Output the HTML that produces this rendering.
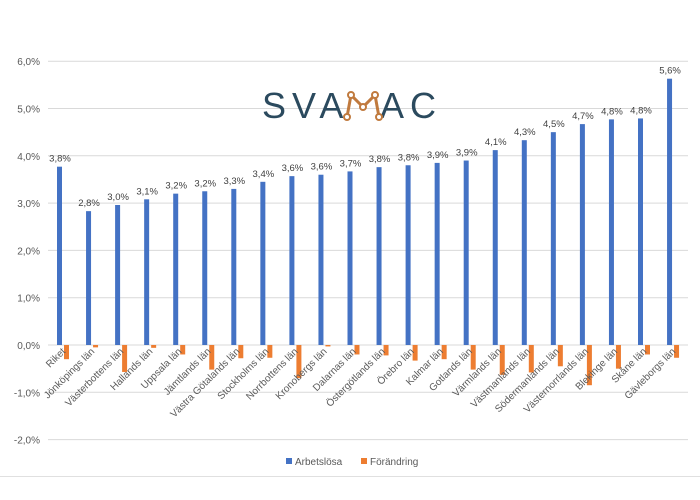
<!DOCTYPE html>
<html><head><meta charset="utf-8"><style>
body{margin:0;background:#fff;width:700px;height:500px;overflow:hidden}
svg{display:block;font-family:"Liberation Sans",sans-serif}
</style></head><body>
<svg id="c" width="700" height="500"></svg>
<script>
const categories=["Riket","Jönköpings län","Västerbottens län","Hallands län","Uppsala län","Jämtlands län","Västra Götalands län","Stockholms län","Norrbottens län","Kronobergs län","Dalarnas län","Östergötlands län","Örebro län","Kalmar län","Gotlands län","Värmlands län","Västmanlands län","Södermanlands län","Västernorrlands län","Blekinge län","Skåne län","Gävleborgs län"];
const arbetslosa=[3.77,2.83,2.96,3.08,3.2,3.25,3.3,3.45,3.57,3.6,3.67,3.76,3.8,3.85,3.9,4.12,4.33,4.5,4.67,4.77,4.79,5.63];
const valueLabels=["3,8%","2,8%","3,0%","3,1%","3,2%","3,2%","3,3%","3,4%","3,6%","3,6%","3,7%","3,8%","3,8%","3,9%","3,9%","4,1%","4,3%","4,5%","4,7%","4,8%","4,8%","5,6%"];
const forandring=[-0.3,-0.05,-0.57,-0.06,-0.2,-0.52,-0.28,-0.27,-0.7,-0.03,-0.2,-0.22,-0.33,-0.3,-0.52,-0.63,-0.58,-0.45,-0.85,-0.5,-0.2,-0.27];
const ticks=[6,5,4,3,2,1,0,-1,-2];
const tickLabels=["6,0%","5,0%","4,0%","3,0%","2,0%","1,0%","0,0%","-1,0%","-2,0%"];
const NS="http://www.w3.org/2000/svg",svg=document.getElementById('c');
const y=v=>345-v*47.3;
const step=29.05;
const xc=i=>62+i*step;
function mk(t,a,p){const e=document.createElementNS(NS,t);for(const k in a)e.setAttribute(k,a[k]);(p||svg).appendChild(e);return e;}
ticks.forEach((t,i)=>{
 const g=mk('line',{x1:48,x2:688,y1:y(t),y2:y(t),stroke:'#d9d9d9','stroke-width':1});
 
 
 const l=mk('text',{x:40,y:y(t)+4,'text-anchor':'end','font-size':10,fill:'#595959'});
 l.textContent=tickLabels[i];
 
 
});
categories.forEach((c,i)=>{
 const b=mk('rect',{x:xc(i)-5,y:y(arbetslosa[i]),width:5,height:y(0)-y(arbetslosa[i]),fill:'#4472c4'});
 
 
 const o=mk('rect',{x:xc(i)+2,y:y(0),width:5,height:y(forandring[i])-y(0),fill:'#ed7d31'});
 
 
 const v=mk('text',{x:xc(i)-2,y:y(arbetslosa[i])-5,'text-anchor':'middle','font-size':9.5,fill:'#404040'});
 v.textContent=valueLabels[i];
 
 
 const cl=mk('text',{x:xc(i)+4,y:352,'text-anchor':'end','font-size':10,fill:'#595959',transform:`rotate(-45 ${xc(i)+4} 352)`});
 cl.textContent=c;
 
 
});
</script>
<svg style="position:absolute;left:0;top:0" width="700" height="500">
<g>
<text x="262" y="118" font-family="Liberation Sans,sans-serif" font-size="36" letter-spacing="6" fill="#2b4a5e">SVA</text>
<text x="380" y="118" font-family="Liberation Sans,sans-serif" font-size="36" letter-spacing="6" fill="#2b4a5e">AC</text>
<polyline points="347,117 351,95 363,107 375,95 379,117" fill="none" stroke="#c07a3e" stroke-width="3"/>
<g fill="#fff" stroke="#c07a3e" stroke-width="2"><circle cx="351" cy="95" r="3"/><circle cx="363" cy="107" r="3"/><circle cx="375" cy="95" r="3"/><circle cx="347" cy="117" r="3"/><circle cx="379" cy="117" r="3"/></g>
</g>
<g>
<rect x="286" y="458" width="6" height="6" fill="#4472c4"/><text x="295" y="465" font-family="Liberation Sans,sans-serif" font-size="10" fill="#595959">Arbetslösa</text>
<rect x="361" y="458" width="6" height="6" fill="#ed7d31"/><text x="370" y="465" font-family="Liberation Sans,sans-serif" font-size="10" fill="#595959">Förändring</text>
</g>
<line x1="0" y1="476.5" x2="700" y2="476.5" stroke="#e0e0e0"/>
</svg>
</body></html>
